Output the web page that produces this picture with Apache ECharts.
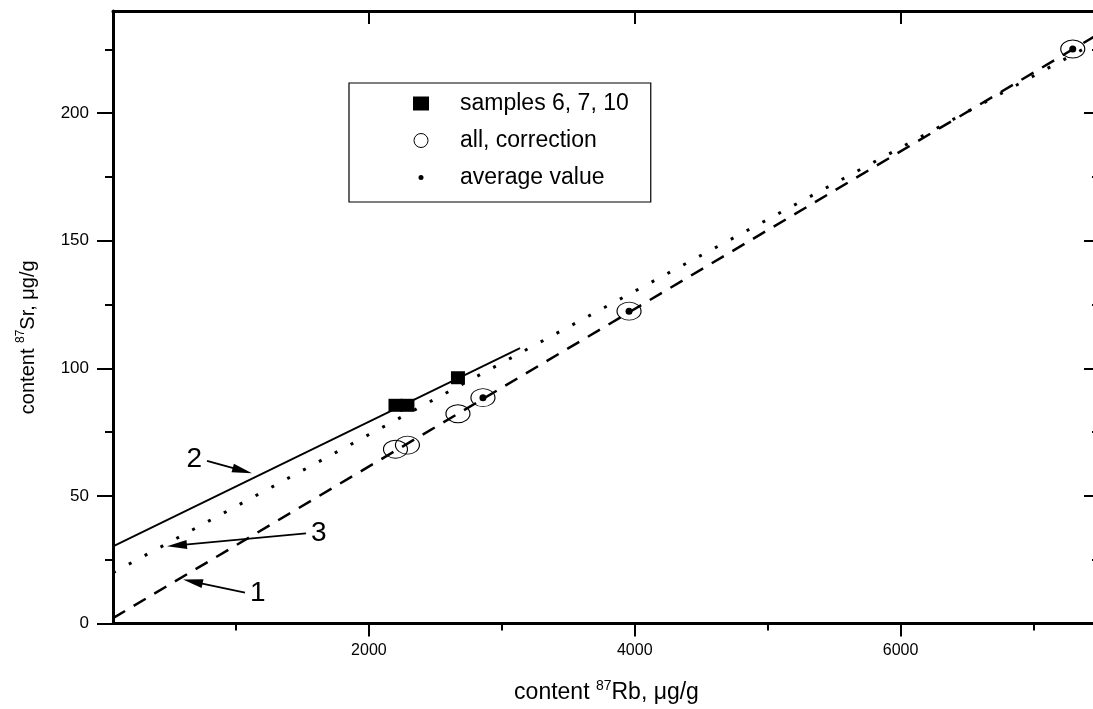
<!DOCTYPE html>
<html>
<head>
<meta charset="utf-8">
<title>content 87Sr vs 87Rb</title>
<script src="https://cdn.jsdelivr.net/npm/echarts@6/dist/echarts.min.js"></script>
<style>
  html, body { margin: 0; padding: 0; background: #fff; overflow: hidden; }
  /* the figure runs a few pixels past the window on the right, like the cropped original */
  #chart { width: 1100px; height: 709px; }
</style>
</head>
<body>
<div id="chart"></div>
<script>
// 87Rb (x) and 87Sr (y), µg/g
var sampleRb = [2200, 2290, 2670];
var sampleSr = [85.5, 85.5, 96.3];
var corrRb = [2200, 2290, 2670, 2858, 3957, 7295];
var corrSr = [68.3, 69.9, 82.2, 88.5, 122.4, 225.1];
var avgRb = [2858, 3957, 7295];
var avgSr = [88.5, 122.4, 225.1];

// lines 1 (dashed), 2 (solid), 3 (dotted): end points
var line1Rb = [75, 7500], line1Sr = [2.1, 231.3];
var line2Rb = [75, 3137], line2Sr = [30.2, 107.9];
var line3Rb = [75, 7500], line3Sr = [19.9, 228.6];

// numbered arrows, in data units
var arrowNames = ['1', '2', '3'];
var arrowFrom = [[1068, 12.1], [782, 63.7], [1527, 35.3]];
var arrowTo = [[675, 16.4], [1048, 59.9], [556, 30.6]];

var xMajor = [2000, 4000, 6000];
var xMinor = [1000, 3000, 5000, 7000];
var yMajor = [0, 50, 100, 150, 200];
var yMinor = [25, 75, 125, 175, 225];

var font = "'Liberation Sans', Arial, sans-serif";

function pairs(xs, ys) {
  return xs.map(function (x, i) { return [x, ys[i]]; });
}

function nameRich(size) {
  return {
    t: { fontSize: size, fontFamily: font, color: '#000', lineHeight: 26 },
    s: { fontSize: Math.round(size * 0.6), fontFamily: font, color: '#000', lineHeight: 13, verticalAlign: 'top' }
  };
}

function xAx(pos, ticks, len, extra) {
  return Object.assign({
    type: 'value', position: pos, min: 75, max: 7500,
    axisLine: { show: true, onZero: false, lineStyle: { color: '#000', width: 3 } },
    axisTick: { show: true, inside: pos === 'top', length: len, customValues: ticks,
      lineStyle: { color: '#000', width: 2 } },
    axisLabel: { show: false },
    splitLine: { show: false }
  }, extra || {});
}

function yAx(pos, ticks, len, extra) {
  return Object.assign({
    type: 'value', position: pos, min: 0, max: 240,
    axisLine: { show: true, onZero: false, lineStyle: { color: '#000', width: 3 } },
    axisTick: { show: true, inside: pos === 'right', length: len, customValues: ticks,
      lineStyle: { color: '#000', width: 2 } },
    axisLabel: { show: false },
    splitLine: { show: false }
  }, extra || {});
}

function plain(v) { return String(v); }

var arrows = arrowNames.map(function (n, i) {
  return [
    { coord: arrowFrom[i], name: n, symbol: 'none' },
    { coord: arrowTo[i], symbol: 'triangle', symbolSize: [9, 20] }
  ];
});

var myChart = echarts.init(document.getElementById('chart'));

var option = {
  animation: false,
  backgroundColor: '#fff',
  grid: { left: 113, top: 11, right: 0, bottom: 83, containLabel: false },
  legend: {
    orient: 'vertical',
    left: 349,
    top: 83,
    padding: [9, 22, 13, 64],
    itemGap: 14,
    itemWidth: 16,
    itemHeight: 14,
    borderColor: '#000',
    borderWidth: 1.2,
    selectedMode: false,
    textStyle: { fontSize: 23, fontFamily: font, color: '#000', lineHeight: 22, padding: [0, 0, 0, 26] },
    data: [
      { name: 'samples 6, 7, 10', icon: 'rect', itemStyle: { color: '#000', opacity: 1, borderWidth: 0 } },
      { name: 'all, correction', icon: 'circle',
        itemStyle: { color: 'rgba(0,0,0,0)', opacity: 1, borderColor: '#000', borderWidth: 1 } },
      { name: 'average value', icon: 'path://M0,0M16,14M5.5,7A2.5,2.5 0 1 1 10.5,7A2.5,2.5 0 1 1 5.5,7Z',
        itemStyle: { color: '#000', opacity: 1, borderWidth: 0 } }
    ]
  },
  xAxis: [
    xAx('bottom', xMajor, 13, {
      axisLabel: { show: true, customValues: xMajor, formatter: plain, margin: 19,
        fontSize: 16, fontFamily: font, color: '#000' },
      name: '{t|content }{s|87}{t|Rb, μg/g}',
      nameLocation: 'middle',
      nameGap: 56,
      nameTextStyle: { rich: nameRich(23) }
    }),
    xAx('bottom', xMinor, 7, { axisLine: { show: false } }),
    xAx('top', xMajor, 13),
    xAx('top', xMinor, 7, { axisLine: { show: false } })
  ],
  yAxis: [
    yAx('left', yMajor, 16, {
      axisLabel: { show: true, customValues: yMajor, formatter: plain, margin: 24,
        fontSize: 17, fontFamily: font, color: '#000' },
      name: '{t|content }{s|87}{t|Sr, μg/g}',
      nameLocation: 'middle',
      nameGap: 72,
      nameRotate: 90,
      nameTextStyle: { rich: nameRich(20), padding: [0, 40, 0, 0] }
    }),
    yAx('left', yMinor, 8, { axisLine: { show: false } }),
    yAx('right', yMajor, 16),
    yAx('right', yMinor, 8, { axisLine: { show: false } })
  ],
  series: [
    {
      name: 'line 1', type: 'line', silent: true, symbol: 'none',
      data: pairs(line1Rb, line1Sr),
      lineStyle: { color: '#000', width: 2.5, type: [14, 10] }
    },
    {
      name: 'line 3', type: 'line', silent: true, symbol: 'none',
      data: pairs(line3Rb, line3Sr),
      lineStyle: { color: '#000', width: 3, type: [3, 15] }
    },
    {
      name: 'line 2', type: 'line', silent: true, symbol: 'none',
      data: pairs(line2Rb, line2Sr),
      lineStyle: { color: '#000', width: 1.8 },
      markLine: {
        silent: true,
        symbol: ['none', 'triangle'],
        lineStyle: { color: '#000', width: 1.8, type: 'solid' },
        label: { show: true, position: 'start', distance: 5, formatter: '{b}',
          fontSize: 28, fontFamily: font, color: '#000' },
        emphasis: { disabled: true },
        data: arrows
      }
    },
    {
      name: 'samples 6, 7, 10', type: 'scatter', symbol: 'rect', symbolSize: [14, 13],
      itemStyle: { color: '#000', opacity: 1 }, z: 4,
      data: pairs(sampleRb, sampleSr)
    },
    {
      name: 'all, correction', type: 'scatter', symbol: 'circle', symbolSize: [24, 18],
      itemStyle: { color: 'rgba(0,0,0,0)', opacity: 1, borderColor: '#000', borderWidth: 1 }, z: 4,
      data: pairs(corrRb, corrSr)
    },
    {
      name: 'average value', type: 'scatter', symbol: 'circle', symbolSize: 7,
      itemStyle: { color: '#000', opacity: 1 }, z: 5,
      data: pairs(avgRb, avgSr)
    }
  ]
};

myChart.setOption(option);
</script>
</body>
</html>
